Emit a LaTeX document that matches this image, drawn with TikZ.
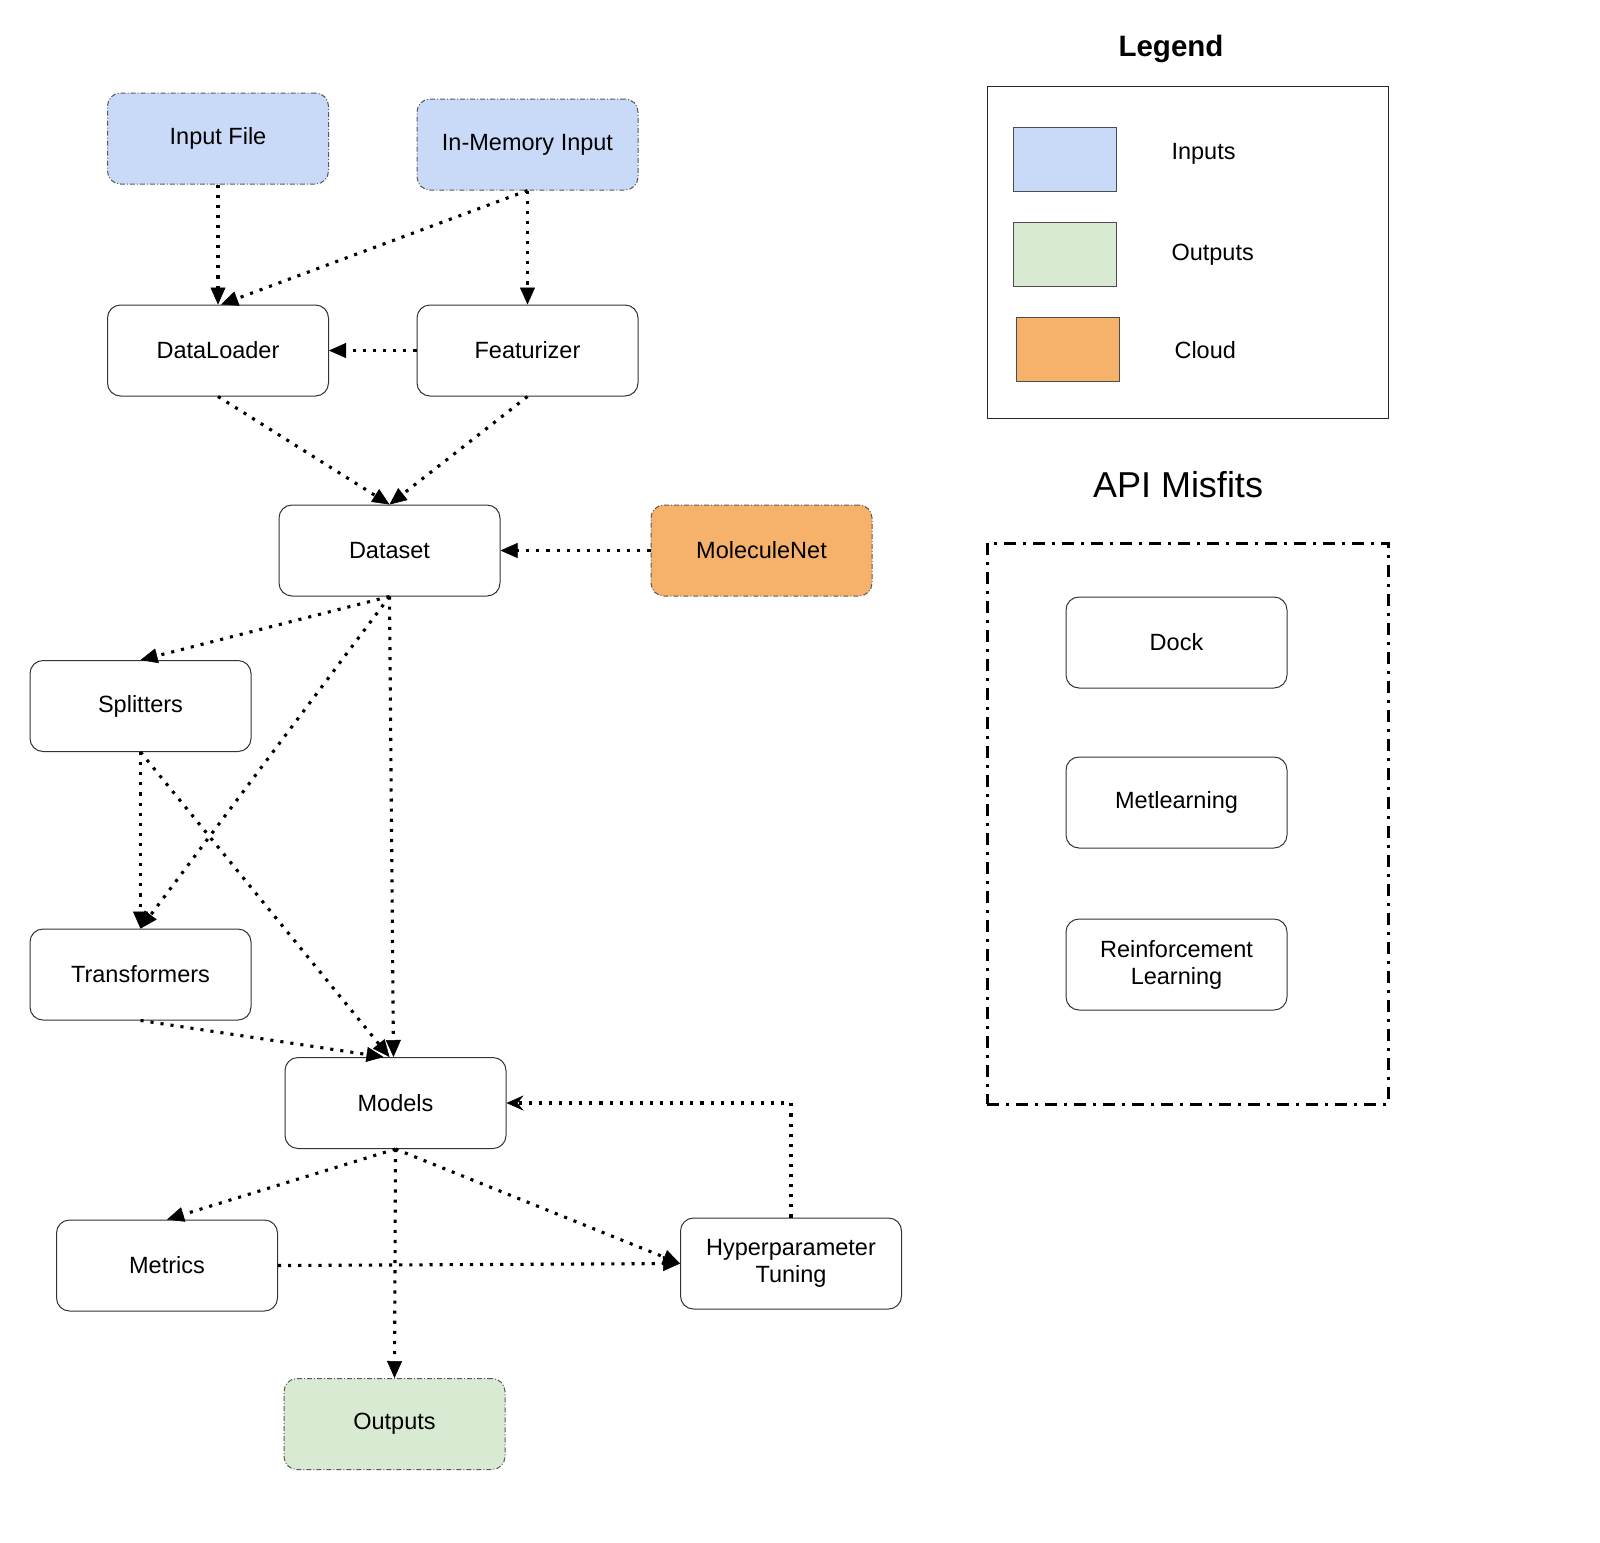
\documentclass[tikz,border=0pt]{standalone}
\usepackage{fontspec}
\setmainfont{Liberation Sans}
\usetikzlibrary{arrows.meta}
\definecolor{inblue}{HTML}{C9DAF8}
\definecolor{outgreen}{HTML}{D9EAD3}
\definecolor{cloudor}{HTML}{F6B26B}
\begin{document}
\begin{tikzpicture}[x=1pt,y=-1pt,
  box/.style={draw=black!80, line width=1pt, rounded corners=13pt, minimum width=221pt, minimum height=91pt, align=center, font=\fontsize{23.5}{27}\selectfont, inner sep=0pt},
  dbox/.style={box, draw=black!65, dash pattern=on 5pt off 2pt on 1pt off 2pt},
  flow/.style={line width=3.1pt, dash pattern=on 3.1pt off 7pt, -{Triangle[length=17pt,width=15pt,line width=0.5pt]}},
  back/.style={line width=3.1pt, dash pattern=on 3.1pt off 7pt, -{Stealth[length=17pt,width=15pt,inset=6pt,line width=0.5pt]}},
  swatch/.style={draw=black!70, line width=1pt, minimum width=103pt, minimum height=64pt, inner sep=0pt},
  legtext/.style={anchor=west, font=\fontsize{23.5}{27}\selectfont},
]
\useasboundingbox (0,0) rectangle (1600,1542);
\fill[white] (0,0) rectangle (1600,1542);

% main flow nodes
\node[dbox, fill=inblue] (infile) at (218,138.5) {Input File};
\node[dbox, fill=inblue] (inmem) at (527.5,144.5) {In-Memory Input};
\node[box] (loader) at (218,350.5) {DataLoader};
\node[box] (feat) at (527.5,350.5) {Featurizer};
\node[box] (dataset) at (389.5,550.5) {Dataset};
\node[dbox, fill=cloudor] (molnet) at (761.5,550.5) {MoleculeNet};
\node[box] (split) at (140.5,706) {Splitters};
\node[box] (trans) at (140.5,974.5) {Transformers};
\node[box] (models) at (395.5,1103) {Models};
\node[box] (metrics) at (167,1265.5) {Metrics};
\node[box] (hyper) at (791,1263.5) {Hyperparameter\\Tuning};
\node[dbox, fill=outgreen] (outputs) at (394.5,1424) {Outputs};

% connectors
\draw[flow] (infile.south) -- (loader.north);
\draw[flow] (inmem.south) -- ([xshift=3pt]loader.north);
\draw[flow] (inmem.south) -- (feat.north);
\draw[flow] (feat.west) -- (loader.east);
\draw[flow] (loader.south) -- (dataset.north);
\draw[flow] (feat.south) -- (dataset.north);
\draw[flow] (molnet.west) -- (dataset.east);
\draw[flow] (dataset.south) -- (split.north);
\draw[flow] (dataset.south) -- (trans.north);
\draw[flow] (dataset.south) -- ([xshift=-2pt]models.north);
\draw[flow] (split.south) -- (trans.north);
\draw[flow] (split.south) -- ([xshift=-6pt]models.north);
\draw[flow] (trans.south) -- ([xshift=-12pt]models.north);
\draw[flow] (models.south) -- (metrics.north);
\draw[flow] (models.south) -- (outputs.north);
\draw[flow] (models.south) -- (hyper.west);
\draw[flow] (metrics.east) -- (hyper.west);
\draw[back] (hyper.north) |- (models.east);

% legend
\node[font=\bfseries\fontsize{29.5}{34}\selectfont] (legtitle) at (1171,49) {Legend};
\node[draw=black!85, line width=1pt, minimum width=401pt, minimum height=332pt, inner sep=0pt] (legbox) at (1187.5,252) {};
\node[swatch, fill=inblue] (swin) at (1064.5,159) {};
\node[swatch, fill=outgreen] (swout) at (1064.5,254) {};
\node[swatch, fill=cloudor] (swcloud) at (1067.5,349) {};
\node[legtext] (lin) at (1168,154) {Inputs};
\node[legtext] (lout) at (1168,255) {Outputs};
\node[legtext] (lcloud) at (1171,350) {Cloud};

% API misfits
\node[font=\fontsize{36}{42}\selectfont] (apititle) at (1178,485) {API Misfits};
\node[draw=black, line width=3pt, dash pattern=on 12pt off 7pt on 3pt off 7pt, minimum width=401pt, minimum height=561pt, inner sep=0pt] (apibox) at (1187.5,823.5) {};
\node[box] (dock) at (1176.5,642.5) {Dock};
\node[box] (metl) at (1176.5,802.5) {Metlearning};
\node[box] (rl) at (1176.5,964.5) {Reinforcement\\Learning};
\end{tikzpicture}
\end{document}
